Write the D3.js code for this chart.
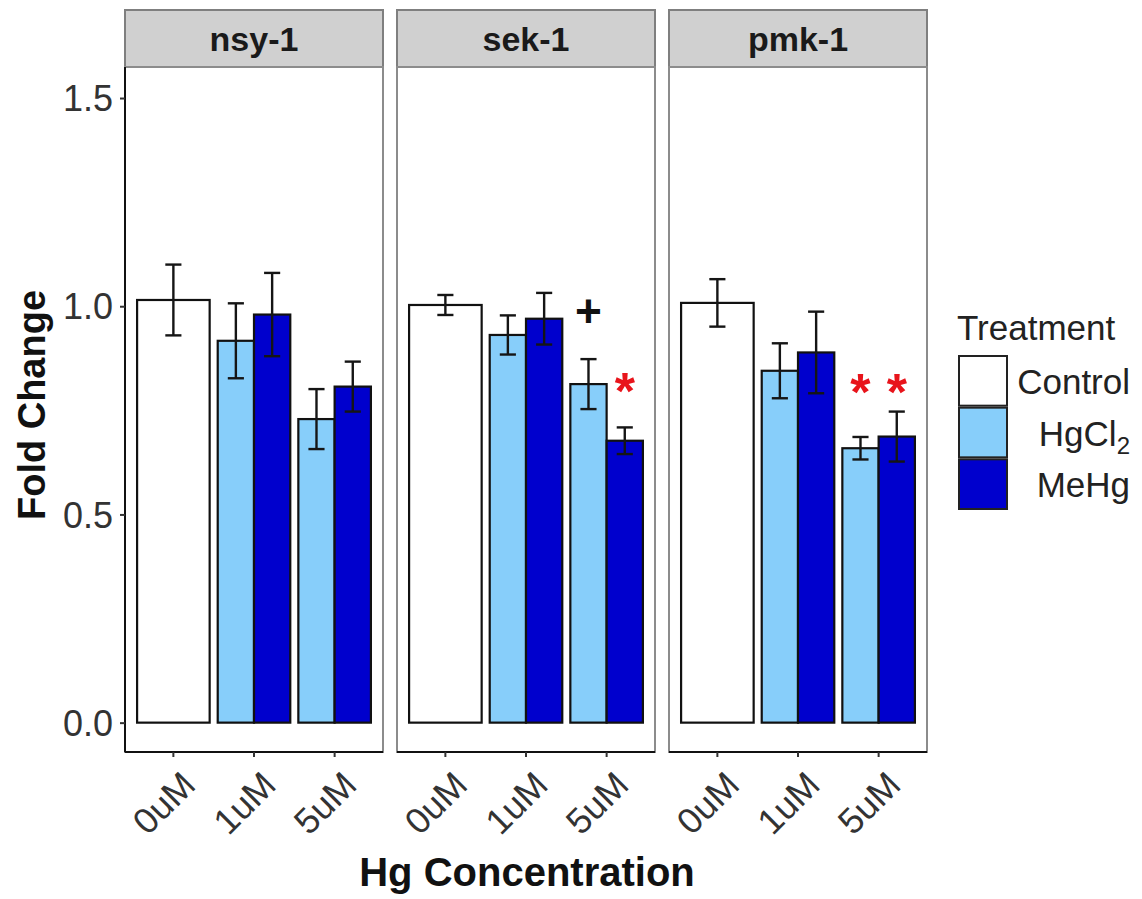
<!DOCTYPE html>
<html>
<head>
<meta charset="utf-8">
<script src="https://cdn.jsdelivr.net/npm/d3@7"></script>
<style>
  html, body { margin: 0; padding: 0; background: #fff; }
  svg { display: block; }
  text { font-family: "Liberation Sans", Arial, Helvetica, sans-serif; }
</style>
</head>
<body>
<script>
// ---------------- data ----------------
const genes = ["nsy-1", "sek-1", "pmk-1"];
const concentrations = ["0uM", "1uM", "5uM"];
const treatments = ["Control", "HgCl2", "MeHg"];

// bar groups (same order in every gene)
const barConc = ["0uM", "1uM", "1uM", "5uM", "5uM"];
const barTreatment = ["Control", "HgCl2", "MeHg", "HgCl2", "MeHg"];

// fold change (mean) per gene, in barConc/barTreatment order
const nsy1Mean = [1.015, 0.917, 0.980, 0.729, 0.807];
const sek1Mean = [1.003, 0.931, 0.970, 0.813, 0.677];
const pmk1Mean = [1.008, 0.845, 0.889, 0.659, 0.687];
// error bar half-widths
const nsy1Err = [0.085, 0.090, 0.100, 0.072, 0.060];
const sek1Err = [0.024, 0.047, 0.062, 0.060, 0.032];
const pmk1Err = [0.057, 0.066, 0.098, 0.027, 0.060];

// significance marks
const markGene = ["sek-1", "sek-1", "pmk-1", "pmk-1"];
const markConc = ["5uM", "5uM", "5uM", "5uM"];
const markTreatment = ["HgCl2", "MeHg", "HgCl2", "MeHg"];
const markLabel = ["+", "*", "*", "*"];
const markY = [0.988, 0.823, 0.82, 0.82];

const yTicks = [0.0, 0.5, 1.0, 1.5];

const meansByGene = { "nsy-1": nsy1Mean, "sek-1": sek1Mean, "pmk-1": pmk1Mean };
const errsByGene = { "nsy-1": nsy1Err, "sek-1": sek1Err, "pmk-1": pmk1Err };

const rows = [];
genes.forEach(g => {
  barConc.forEach((c, i) => {
    rows.push({ gene: g, conc: c, treatment: barTreatment[i], mean: meansByGene[g][i], err: errsByGene[g][i] });
  });
});

// ---------------- layout ----------------
const W = 1142, H = 899;
const panelW = 258, panelGap = 14, firstLeft = 125;
const stripTop = 10, stripBottom = 67, plotBottom = 752;

const fill = d3.scaleOrdinal().domain(treatments).range(["#ffffff", "#87cefa", "#0000cd"]);

const svg = d3.select("body").append("svg").attr("width", W).attr("height", H);

const y = d3.scaleLinear().domain([-0.0705, 1.5745]).range([plotBottom, stripBottom]);

const panelX = d3.scaleBand().domain(genes).range([firstLeft, firstLeft + 3 * panelW + 2 * panelGap])
  .paddingInner(panelGap / (panelW + panelGap)).paddingOuter(0);

const x = d3.scaleBand().domain(concentrations).range([0, panelW]).paddingInner(0).paddingOuter(0.1);
const step = x.step();
const barW = 0.9 * step;

function groupMembers(gene, conc) {
  return rows.filter(r => r.gene === gene && r.conc === conc).map(r => r.treatment);
}
function barPos(gene, conc, treatment) {
  const members = groupMembers(gene, conc);
  const sub = d3.scaleBand().domain(members).range([0, barW]);
  const left = x(conc) + step / 2 - barW / 2 + sub(treatment);
  return { left: left, width: sub.bandwidth(), center: left + sub.bandwidth() / 2 };
}

genes.forEach((g, gi) => {
  const px = panelX(g);
  const pg = svg.append("g").attr("transform", `translate(${px},0)`);

  // strip
  pg.append("rect").attr("x", 0).attr("y", stripTop).attr("width", panelW).attr("height", stripBottom - stripTop)
    .attr("fill", "#d0d0d0").attr("stroke", "#7f7f7f").attr("stroke-width", 2);
  pg.append("text").attr("x", panelW / 2).attr("y", (stripTop + stripBottom) / 2 + 12)
    .attr("text-anchor", "middle").attr("font-size", 34).attr("font-weight", "bold").attr("fill", "#1a1a1a").text(g);

  // panel background & border
  pg.append("rect").attr("x", 0).attr("y", stripBottom).attr("width", panelW).attr("height", plotBottom - stripBottom)
    .attr("fill", "#fff").attr("stroke", "#8c8c8c").attr("stroke-width", 2);

  // bars
  const data = rows.filter(r => r.gene === g);
  pg.selectAll("rect.bar").data(data).join("rect").attr("class", "bar")
    .attr("x", d => barPos(g, d.conc, d.treatment).left)
    .attr("width", d => barPos(g, d.conc, d.treatment).width)
    .attr("y", d => y(d.mean))
    .attr("height", d => y(0) - y(d.mean))
    .attr("fill", d => fill(d.treatment))
    .attr("stroke", "#111").attr("stroke-width", 2.2);

  // error bars
  const capW = 0.2 * step;
  const eb = pg.selectAll("g.eb").data(data).join("g").attr("class", "eb")
    .attr("stroke", "#151515").attr("stroke-width", 2.4);
  eb.append("line")
    .attr("x1", d => barPos(g, d.conc, d.treatment).center).attr("x2", d => barPos(g, d.conc, d.treatment).center)
    .attr("y1", d => y(d.mean + d.err)).attr("y2", d => y(d.mean - d.err));
  eb.append("line")
    .attr("x1", d => barPos(g, d.conc, d.treatment).center - capW / 2).attr("x2", d => barPos(g, d.conc, d.treatment).center + capW / 2)
    .attr("y1", d => y(d.mean + d.err)).attr("y2", d => y(d.mean + d.err));
  eb.append("line")
    .attr("x1", d => barPos(g, d.conc, d.treatment).center - capW / 2).attr("x2", d => barPos(g, d.conc, d.treatment).center + capW / 2)
    .attr("y1", d => y(d.mean - d.err)).attr("y2", d => y(d.mean - d.err));

  // significance marks
  markGene.forEach((mg, mi) => {
    if (mg !== g) return;
    const c = barPos(g, markConc[mi], markTreatment[mi]).center;
    const isStar = markLabel[mi] === "*";
    pg.append("text").attr("x", c).attr("y", y(markY[mi]) + (isStar ? 29 : 16))
      .attr("text-anchor", "middle").attr("font-weight", "bold")
      .attr("font-size", isStar ? 52 : 46)
      .attr("fill", isStar ? "#e8141b" : "#111").text(markLabel[mi]);
  });

  // x axis
  const xAxis = d3.axisBottom(x).tickSize(5).tickSizeOuter(0);
  const xg = pg.append("g").attr("transform", `translate(0,${plotBottom})`).call(xAxis);
  xg.select(".domain").attr("stroke", "#111").attr("stroke-width", 2).attr("d", `M0,0H${panelW}`);
  xg.selectAll(".tick line").attr("stroke", "#333").attr("stroke-width", 2);
  xg.selectAll(".tick text")
    .attr("font-size", 36).attr("fill", "#333")
    .attr("text-anchor", "end").attr("dy", null).attr("y", 0)
    .attr("transform", "translate(24,35) rotate(-45)");

  // y axis only on first panel
  if (gi === 0) {
    const yAxis = d3.axisLeft(y).tickValues(yTicks).tickFormat(d3.format(".1f")).tickSize(5).tickSizeOuter(0);
    const yg = pg.append("g").call(yAxis);
    yg.select(".domain").attr("stroke", "#111").attr("stroke-width", 2).attr("d", `M0,${stripBottom}V${plotBottom}`);
    yg.selectAll(".tick line").attr("stroke", "#333").attr("stroke-width", 2);
    yg.selectAll(".tick text").attr("font-size", 36).attr("fill", "#333").attr("x", -12).attr("dy", "0.35em");
  }
});

// axis titles
svg.append("text").attr("transform", `translate(45,405) rotate(-90)`)
  .attr("text-anchor", "middle").attr("font-size", 38).attr("font-weight", "bold").attr("fill", "#111").text("Fold Change");
svg.append("text").attr("x", 527).attr("y", 886)
  .attr("text-anchor", "middle").attr("font-size", 40).attr("font-weight", "bold").attr("fill", "#111").text("Hg Concentration");

// legend
const lg = svg.append("g");
lg.append("text").attr("x", 957).attr("y", 340).attr("font-size", 35).attr("fill", "#222").text("Treatment");
const keyY = d3.scaleBand().domain(treatments).range([355, 510]);
treatments.forEach(t => {
  lg.append("rect").attr("x", 959).attr("y", keyY(t) + 1).attr("width", 48).attr("height", keyY.bandwidth() - 2)
    .attr("fill", fill(t)).attr("stroke", "#222").attr("stroke-width", 2);
  const tx = lg.append("text").attr("x", 1130).attr("y", keyY(t) + keyY.bandwidth() / 2 + 13)
    .attr("text-anchor", "end").attr("font-size", 35).attr("fill", "#222");
  if (t === "HgCl2") {
    tx.append("tspan").text("HgCl");
    tx.append("tspan").attr("font-size", 24).attr("dy", 8).text("2");
  } else {
    tx.text(t);
  }
});
</script>
</body>
</html>
